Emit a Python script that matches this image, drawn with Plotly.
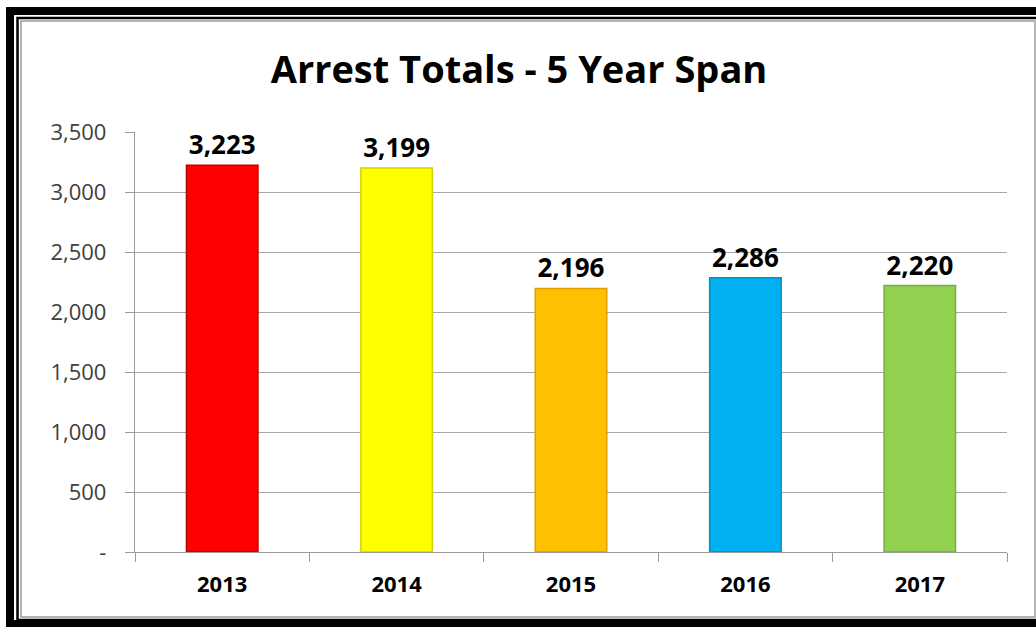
import plotly.graph_objects as go

years = ["2013", "2014", "2015", "2016", "2017"]
arrests = [3223, 3199, 2196, 2286, 2220]
bar_colors = ["#FF0000", "#FFFF00", "#FFC000", "#00B0F0", "#92D050"]
edge_colors = ["#C00000", "#D4D400", "#D9A000", "#0090C8", "#76B040"]
y_tickvals = [0, 500, 1000, 1500, 2000, 2500, 3000, 3500]
y_ticktext = ["-", "500", "1,000", "1,500", "2,000", "2,500", "3,000", "3,500"]
title_text = "Arrest Totals - 5 Year Span"

W, H = 1036, 627
L, R, T, B = 135, 1007, 132, 552

def px(x):
    return (x - L) / (R - L)

def py(y):
    return (B - y) / (B - T)

fig = go.Figure(go.Bar(
    x=years, y=arrests,
    marker=dict(color=bar_colors, line=dict(color=edge_colors, width=1.5)),
    text=[f"{v:,}" for v in arrests],
    textposition="outside",
    textfont=dict(family="Open Sans", size=26, color="black", weight="bold"),
    cliponaxis=False,
    width=0.41,
))

shapes = [
    dict(type="rect", xref="paper", yref="paper",
         x0=px(10), x1=px(1050), y0=py(11), y1=py(624),
         line=dict(color="black", width=8), fillcolor="rgba(0,0,0,0)", layer="above"),
    dict(type="rect", xref="paper", yref="paper",
         x0=px(17.5), x1=px(1050), y0=py(18), y1=py(620),
         line=dict(color="black", width=2.5), fillcolor="rgba(0,0,0,0)", layer="above"),
    dict(type="rect", xref="paper", yref="paper",
         x0=px(21), x1=px(1035), y0=py(21), y1=py(617),
         line=dict(color="#9A9A9A", width=1.5), fillcolor="rgba(0,0,0,0)", layer="above"),
]

fig.update_layout(
    width=W, height=H,
    margin=dict(l=L, r=W - R, t=T, b=H - B, autoexpand=False),
    paper_bgcolor="white", plot_bgcolor="white",
    showlegend=False,
    bargap=0.59,
    title=dict(text=title_text, x=519 / W, xref="container", xanchor="center",
               y=1 - 70 / H, yanchor="middle",
               font=dict(family="Open Sans", size=38, color="black", weight="bold")),
    shapes=shapes,
    xaxis=dict(
        showline=True, linecolor="#9A9A9A", linewidth=1.3,
        ticks="outside", tickson="boundaries", ticklen=9, tickcolor="#9A9A9A",
        tickfont=dict(family="Open Sans", size=22, color="black", weight="bold"),
        showgrid=False,
        ticklabelstandoff=12,
    ),
    yaxis=dict(
        range=[0, 3500],
        tickvals=y_tickvals, ticktext=y_ticktext,
        showline=True, linecolor="#9A9A9A", linewidth=1.3,
        ticks="outside", ticklen=9, tickcolor="#9A9A9A",
        showgrid=True, gridcolor="#A6A6A6", gridwidth=1.2,
        zeroline=False,
        tickfont=dict(family="Open Sans", size=22, color="#404040"),
        ticklabelstandoff=14,
    ),
)

fig.write_html("out.html", config={"displayModeBar": False},
               post_script="document.body.style.margin='0';document.body.style.overflow='hidden';")
